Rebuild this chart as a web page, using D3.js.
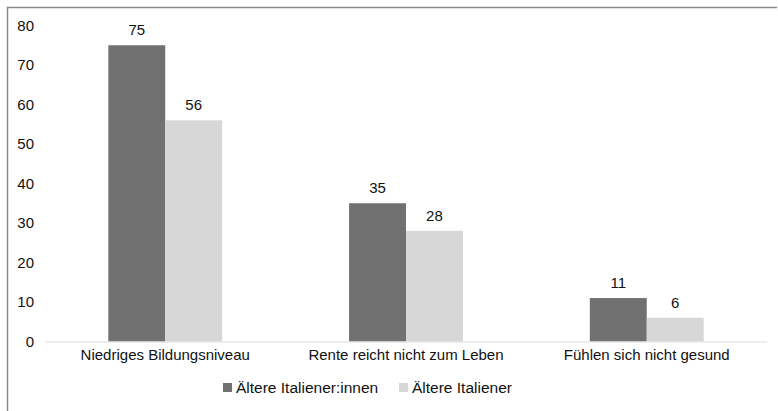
<!DOCTYPE html>
<html lang="de">
<head>
  <meta charset="UTF-8">
  <title>Ältere Italiener</title>
  <script src="https://d3js.org/d3.v7.min.js"></script>
  <style>
    body { margin: 0; background: #fff; }
    text { font-family: "Liberation Sans", Arial, sans-serif; fill: #111; }
  </style>
</head>
<body>
  <svg id="chart" width="778" height="411"></svg>
  <script>
    const categories = ["Niedriges Bildungsniveau", "Rente reicht nicht zum Leben", "Fühlen sich nicht gesund"];
    const seriesNames = ["Ältere Italiener:innen", "Ältere Italiener"];
    const innen = [75, 35, 11];
    const italiener = [56, 28, 6];
    const yTicks = [0, 10, 20, 30, 40, 50, 60, 70, 80];
    const colors = ["#717171", "#d7d7d7"];

    const svg = d3.select("#chart");

    // frame
    svg.append("path")
      .attr("d", "M7.5,420 L7.5,7.5 L777,7.5")
      .attr("fill", "none")
      .attr("stroke", "#8a8a8a")
      .attr("stroke-width", 1.5);

    const x = d3.scaleBand().domain(categories).range([45, 767]).paddingInner(0.527).paddingOuter(0.263);
    const x1 = d3.scaleBand().domain(seriesNames).range([0, x.bandwidth()]);
    const y = d3.scaleLinear().domain([0, 80]).range([341.5, 25.5]);

    // y labels (no axis line)
    const yAxis = svg.append("g").attr("transform", "translate(34,0)")
      .call(d3.axisLeft(y).tickValues(yTicks).tickSize(0).tickPadding(0));
    yAxis.select(".domain").remove();
    yAxis.selectAll("text")
      .style("font-family", '"Liberation Sans", Arial, sans-serif')
      .style("font-size", "15px").attr("fill", "#111");

    const rows = categories.map((c, i) => ({ cat: c, vals: [innen[i], italiener[i]] }));

    const groups = svg.append("g").selectAll("g").data(rows).join("g")
      .attr("transform", d => `translate(${x(d.cat)},0)`);

    groups.selectAll("rect").data(d => d.vals.map((v, j) => ({ s: seriesNames[j], v, j })))
      .join("rect")
      .attr("x", d => x1(d.s))
      .attr("y", d => y(d.v))
      .attr("width", x1.bandwidth())
      .attr("height", d => y(0) - y(d.v))
      .attr("fill", d => colors[d.j]);

    groups.selectAll("text.val").data(d => d.vals.map((v, j) => ({ s: seriesNames[j], v })))
      .join("text")
      .attr("class", "val")
      .attr("x", d => x1(d.s) + x1.bandwidth() / 2)
      .attr("y", d => y(d.v) - 10)
      .attr("text-anchor", "middle")
      .style("font-size", "15px")
      .text(d => d.v);

    // baseline
    svg.append("line")
      .attr("x1", 45).attr("x2", 767)
      .attr("y1", y(0) + 0.5).attr("y2", y(0) + 0.5)
      .attr("stroke", "#dcdcdc").attr("stroke-width", 1);

    // x labels
    const xAxis = svg.append("g").attr("transform", `translate(0,${y(0)})`)
      .call(d3.axisBottom(x).tickSize(0).tickPadding(8));
    xAxis.select(".domain").remove();
    xAxis.selectAll("text")
      .style("font-family", '"Liberation Sans", Arial, sans-serif')
      .style("font-size", "15px").attr("fill", "#111");

    // legend
    const legendX = [223, 399];
    const legend = svg.append("g").selectAll("g").data(seriesNames).join("g")
      .attr("transform", (d, i) => `translate(${legendX[i]},382)`);
    legend.append("rect").attr("y", 1).attr("width", 9).attr("height", 9).attr("fill", (d, i) => colors[i]);
    legend.append("text").attr("x", 13).attr("y", 10.5)
      .style("font-size", "15.5px").text(d => d);
  </script>
</body>
</html>
